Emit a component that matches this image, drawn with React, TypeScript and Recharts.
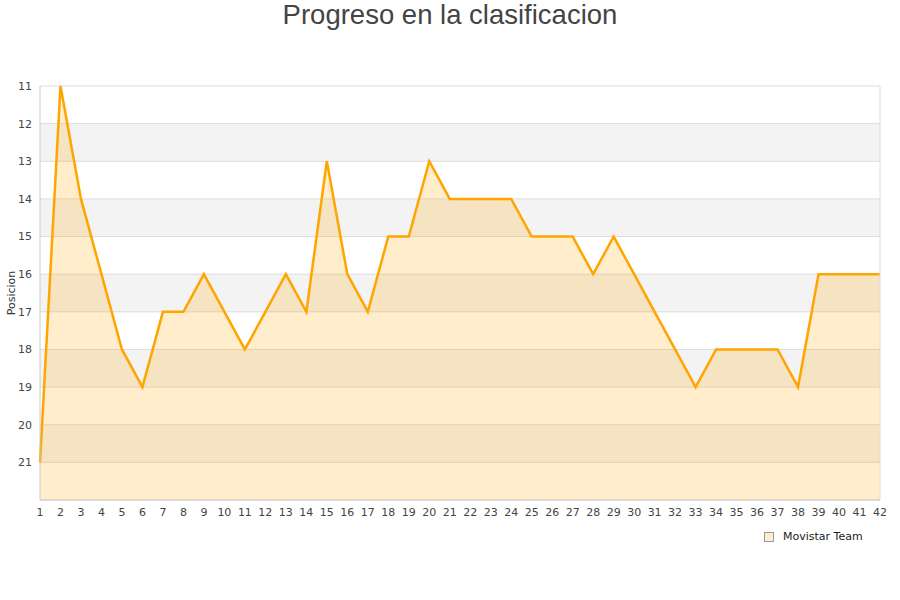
import React from 'react';
import { AreaChart, Area, XAxis, YAxis, CartesianGrid, ReferenceLine } from 'recharts';

// ============================================================================
// Progreso en la clasificacion - posicion por etapa (eje invertido)
// ============================================================================

const etapas = [
  1, 2, 3, 4, 5, 6, 7, 8, 9, 10, 11, 12, 13, 14, 15, 16, 17, 18, 19, 20, 21,
  22, 23, 24, 25, 26, 27, 28, 29, 30, 31, 32, 33, 34, 35, 36, 37, 38, 39, 40, 41, 42,
];
const posiciones = [
  21, 11, 14, 16, 18, 19, 17, 17, 16, 17, 18, 17, 16, 17, 13, 16, 17, 15, 15, 13, 14,
  14, 14, 14, 15, 15, 15, 16, 15, 16, 17, 18, 19, 18, 18, 18, 18, 19, 16, 16, 16, 16,
];
const yTicks = [11, 12, 13, 14, 15, 16, 17, 18, 19, 20, 21];
const serieNombre = 'Movistar Team';

const data = etapas.map((etapa, i) => ({ etapa, posicion: posiciones[i] }));

const tickStyle = { fontFamily: 'DejaVu Sans', fontSize: 11, fill: '#444' };

export default function App() {
  return (
    <div style={{ position: 'absolute', left: 0, top: 0, width: 900, height: 600, background: '#fff' }}>
      <div
        style={{
          position: 'absolute',
          top: 0,
          left: 0,
          width: 900,
          textAlign: 'center',
          fontFamily: 'Liberation Sans',
          fontSize: 27.5,
          color: '#444',
          lineHeight: '30px',
        }}
      >
        Progreso en la clasificacion
      </div>
      <div
        style={{
          position: 'absolute',
          left: 11,
          top: 293,
          transform: 'translate(-50%, -50%) rotate(-90deg)',
          fontFamily: 'DejaVu Sans',
          fontSize: 11,
          color: '#333',
          whiteSpace: 'nowrap',
        }}
      >
        Posicion
      </div>
      <AreaChart width={900} height={600} data={data} margin={{ top: 86, right: 20, bottom: 70, left: 0 }}>
        <CartesianGrid vertical={false} stroke="#dcdcdc" horizontalFill={['#ffffff', '#f3f3f3']} />
        <XAxis
          dataKey="etapa"
          type="number"
          domain={[1, 42]}
          ticks={etapas}
          interval={0}
          tickLine={false}
          stroke="#cccccc"
          tick={tickStyle}
        />
        <YAxis
          type="number"
          reversed
          domain={[11, 22]}
          ticks={yTicks}
          interval={0}
          width={40}
          tickLine={false}
          stroke="#cccccc"
          tick={tickStyle}
        />
        <ReferenceLine x={42} stroke="#dcdcdc" />
        <Area
          type="linear"
          dataKey="posicion"
          name={serieNombre}
          baseValue={22}
          stroke="#FFA500"
          strokeWidth={2.5}
          fill="#FFA500"
          fillOpacity={0.2}
          dot={false}
          activeDot={false}
          isAnimationActive={false}
        />
      </AreaChart>
      <div
        style={{
          position: 'absolute',
          left: 764,
          top: 530,
          display: 'flex',
          alignItems: 'center',
          fontFamily: 'DejaVu Sans',
          fontSize: 11,
          color: '#222',
        }}
      >
        <span
          style={{
            display: 'inline-block',
            width: 8,
            height: 8,
            background: '#FFEDCC',
            border: '1px solid #999',
            marginRight: 9,
          }}
        />
        {serieNombre}
      </div>
    </div>
  );
}
